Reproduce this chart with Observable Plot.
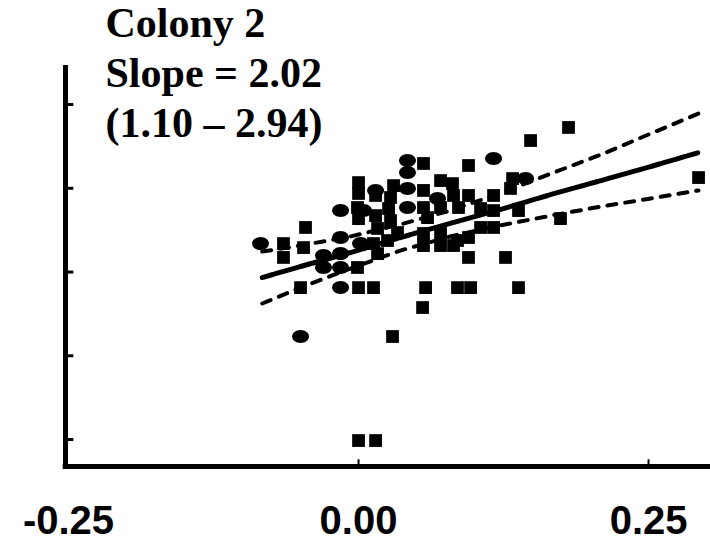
<!DOCTYPE html>
<html>
<head>
<meta charset="utf-8">
<script src="https://cdn.jsdelivr.net/npm/d3@7"></script>
<script src="https://cdn.jsdelivr.net/npm/@observablehq/plot@0.6"></script>
<style>
  html, body { margin: 0; padding: 0; background: #fff; }
  #chart svg { display: block; }
</style>
</head>
<body>
<div id="chart"></div>
<script>
// ---- Data ----
const titleLines = ["Colony 2", "Slope = 2.02", "(1.10 \u2013 2.94)"];

const xTicks = [-0.25, 0, 0.25];
const yTicks = [0, 0.5, 1.0, 1.5, 2.0];

// Square markers
const squareX = [0, 0.0147, 0.0293, 0.0552, -0.05, 0, 0.0129, 0.0578, 0.0853, 0.0966, 0.1379,
  0.0948, 0.1267, -0.0647, -0.0647, -0.0474, 0.0129, 0.025, 0.056, 0.0707, 0.0819,
  -0.0009, 0.0164, -0.0457, 0.0164, 0.0336, 0.056, 0.0707, 0.0853, 0.0948, 0.1052, 0.1164,
  0, 0.0147, 0.0276, 0.0595, -0.0009, 0.0259, 0.056, 0.0707, 0.0862, 0.1052, 0.1164, 0.1379, 0.1741,
  0, 0.0147, 0.0276, 0.0819, 0.0948, 0.1164, 0.131, 0.056, 0, 0.0302, 0.0707, 0.081, 0.1328, 0.2931,
  0.056, 0.0948, 0.1483, 0.181];
const squareY = [-0.006, -0.006, 0.615, 0.788, 0.907, 0.907, 0.907, 0.907, 0.907, 0.907, 0.907,
  1.087, 1.087, 1.170, 1.087, 1.146, 1.170, 1.188, 1.158, 1.158, 1.158,
  1.027, 1.110, 1.266, 1.260, 1.236, 1.230, 1.230, 1.188, 1.206, 1.266, 1.266,
  1.319, 1.337, 1.307, 1.325, 1.385, 1.379, 1.385, 1.385, 1.385, 1.379, 1.367, 1.367, 1.319,
  1.469, 1.457, 1.445, 1.457, 1.457, 1.457, 1.499, 1.487, 1.534, 1.516, 1.546, 1.528, 1.558, 1.564,
  1.648, 1.636, 1.785, 1.863];

// Ellipse markers
const ellipseX = [-0.05, -0.0845, -0.0155, -0.0302, -0.0155, -0.0302, -0.0155, -0.0155, 0.0017,
  -0.0155, 0.0043, 0.0422, 0.0681, 0.0422, 0.0422, 0.0422, 0.1164, 0.144, 0.0147];
const ellipseY = [0.615, 1.170, 0.907, 1.099, 1.110, 1.027, 1.027, 1.206, 1.170,
  1.367, 1.367, 1.385, 1.439, 1.499, 1.594, 1.666, 1.678, 1.558, 1.487];

// Regression line and confidence band, read at several x positions
const bandX  = [-0.083, -0.05, -0.007, 0.036, 0.079, 0.122, 0.166, 0.209, 0.252, 0.293];
const fitY   = [0.967, 1.033, 1.116, 1.206, 1.290, 1.373, 1.463, 1.546, 1.630, 1.713];
const upperY = [1.122, 1.158, 1.212, 1.284, 1.367, 1.469, 1.588, 1.701, 1.827, 1.946];
const lowerY = [0.812, 0.907, 1.021, 1.128, 1.212, 1.278, 1.337, 1.391, 1.439, 1.487];

// ---- Build tables ----
const squares = squareX.map((x, i) => ({x, y: squareY[i]}));
const ellipses = ellipseX.map((x, i) => ({x, y: ellipseY[i]}));
const band = bandX.map((x, i) => ({x, fit: fitY[i], upper: upperY[i], lower: lowerY[i]}));

const xMin = -0.2526, xMax = 0.3034;
const yMin = -0.161, yMax = 2.233;

const ellipseSymbol = {
  draw(context, size) {
    const r = Math.sqrt(size / Math.PI);
    const rx = r * 1.3, ry = r;
    const k = 0.5523;
    context.moveTo(rx, 0);
    context.bezierCurveTo(rx, k * ry, k * rx, ry, 0, ry);
    context.bezierCurveTo(-k * rx, ry, -rx, k * ry, -rx, 0);
    context.bezierCurveTo(-rx, -k * ry, -k * rx, -ry, 0, -ry);
    context.bezierCurveTo(k * rx, -ry, rx, -k * ry, rx, 0);
    context.closePath();
  }
};

const chart = Plot.plot({
  width: 710,
  height: 543,
  marginLeft: 65,
  marginRight: 0,
  marginTop: 65,
  marginBottom: 77,
  style: {background: "#fff", overflow: "visible"},
  x: {domain: [xMin, xMax], axis: null},
  y: {domain: [yMin, yMax], axis: null},
  marks: [
    Plot.dot(squares, {x: "x", y: "y", symbol: "square", r: 7.2, fill: "#000", stroke: "none"}),
    Plot.dot(ellipses, {x: "x", y: "y", symbol: ellipseSymbol, r: 6.5, fill: "#000", stroke: "none"}),
    Plot.line(band, {x: "x", y: "upper", stroke: "#000", strokeWidth: 4, strokeDasharray: "9,9"}),
    Plot.line(band, {x: "x", y: "lower", stroke: "#000", strokeWidth: 4, strokeDasharray: "9,9"}),
    Plot.line(band, {x: "x", y: "fit", stroke: "#000", strokeWidth: 5, strokeDasharray: "11,2"}),
    // axis lines
    Plot.ruleX([xMin], {y1: yMin - 0.012, y2: yMax, stroke: "#000", strokeWidth: 5}),
    Plot.ruleY([yMin], {x1: xMin - 0.002, x2: xMax, stroke: "#000", strokeWidth: 5}),
    // y ticks (inside)
    Plot.ruleY(yTicks, {x1: xMin, x2: xMin + 0.0072, stroke: "#000", strokeWidth: 3}),
    // x ticks (inside)
    Plot.ruleX(xTicks.filter(d => d > xMin + 0.01), {y1: yMin, y2: yMin + 0.04, stroke: "#000", strokeWidth: 2}),
    Plot.axisX(xTicks, {
      tickSize: 0, tickPadding: 39, label: null,
      tickFormat: d => d.toFixed(2),
      fontSize: 40, fontWeight: "bold",
      fontFamily: "'Liberation Sans', Arial, sans-serif",
      fill: "#000"
    }),
    Plot.text([titleLines.join("\n")], {
      frameAnchor: "top-left", dx: 40, dy: -64,
      textAnchor: "start", lineAnchor: "top", lineHeight: 1.19,
      fontSize: 42, fontWeight: "bold",
      fontFamily: "'Liberation Serif', 'Times New Roman', serif",
      fill: "#000"
    })
  ]
});
document.getElementById("chart").appendChild(chart);
</script>
</body>
</html>
